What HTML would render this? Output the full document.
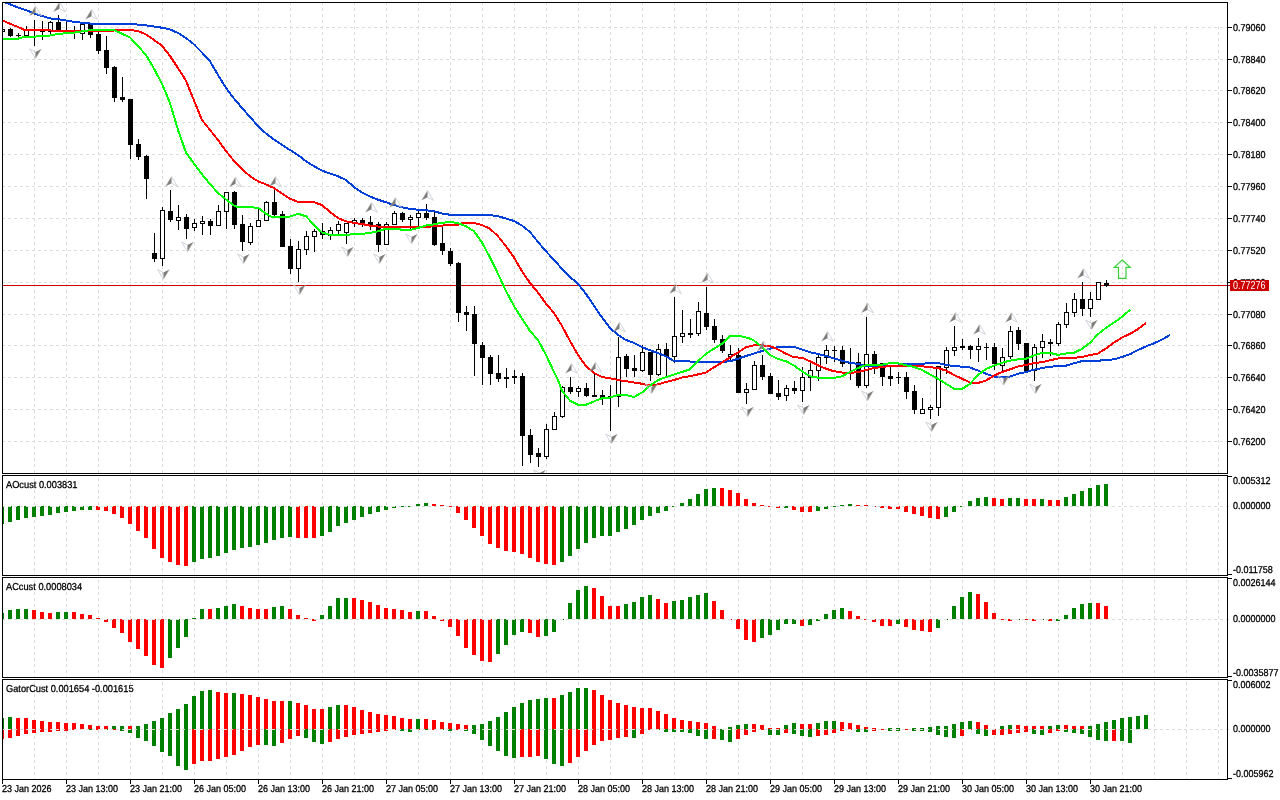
<!DOCTYPE html><html><head><meta charset="utf-8"><title>chart</title><style>html,body{margin:0;padding:0;background:#fff;overflow:hidden}body{width:1280px;height:800px;font-family:"Liberation Sans",sans-serif}</style></head><body><div style="position:relative;width:1280px;height:800px;overflow:hidden"><svg width="1280" height="800" viewBox="0 0 1280 800" shape-rendering="crispEdges" style="display:block">
<rect width="1280" height="800" fill="#fff"/>
<defs>
<clipPath id="cm"><rect x="3" y="3" width="1224" height="470"/></clipPath>
<clipPath id="c1"><rect x="3" y="476" width="1224" height="99"/></clipPath>
<clipPath id="c2"><rect x="3" y="578" width="1224" height="99"/></clipPath>
<clipPath id="c3"><rect x="3" y="680" width="1224" height="99"/></clipPath>
<g id="au"><path d="M0,0 L-5.9,9.7 L0.1,6.7 Z" fill="#7d7d7d"/><path d="M0.2,0.3 L5.9,9.8 L0.2,6.8" fill="none" stroke="#c6c9d4" stroke-width="0.8"/><path d="M0,0 L-5.9,9.7" fill="none" stroke="#c9b9a8" stroke-width="0.5"/></g>
<g id="ad"><path d="M0,0 L5.9,-9.7 L-0.1,-6.7 Z" fill="#7d7d7d"/><path d="M-0.2,-0.3 L-5.9,-9.8 L-0.2,-6.8" fill="none" stroke="#c6c9d4" stroke-width="0.8"/><path d="M0,0 L5.9,-9.7" fill="none" stroke="#c9b9a8" stroke-width="0.5"/></g>
</defs>
<g stroke="#dcdcdc" stroke-width="1" stroke-dasharray="3,3" stroke-dashoffset="0" fill="none"><line x1="34.5" y1="2" x2="34.5" y2="473"/><line x1="66.5" y1="2" x2="66.5" y2="473"/><line x1="98.5" y1="2" x2="98.5" y2="473"/><line x1="130.5" y1="2" x2="130.5" y2="473"/><line x1="162.5" y1="2" x2="162.5" y2="473"/><line x1="194.5" y1="2" x2="194.5" y2="473"/><line x1="226.5" y1="2" x2="226.5" y2="473"/><line x1="258.5" y1="2" x2="258.5" y2="473"/><line x1="290.5" y1="2" x2="290.5" y2="473"/><line x1="322.5" y1="2" x2="322.5" y2="473"/><line x1="354.5" y1="2" x2="354.5" y2="473"/><line x1="386.5" y1="2" x2="386.5" y2="473"/><line x1="418.5" y1="2" x2="418.5" y2="473"/><line x1="450.5" y1="2" x2="450.5" y2="473"/><line x1="482.5" y1="2" x2="482.5" y2="473"/><line x1="514.5" y1="2" x2="514.5" y2="473"/><line x1="546.5" y1="2" x2="546.5" y2="473"/><line x1="578.5" y1="2" x2="578.5" y2="473"/><line x1="610.5" y1="2" x2="610.5" y2="473"/><line x1="642.5" y1="2" x2="642.5" y2="473"/><line x1="674.5" y1="2" x2="674.5" y2="473"/><line x1="706.5" y1="2" x2="706.5" y2="473"/><line x1="738.5" y1="2" x2="738.5" y2="473"/><line x1="770.5" y1="2" x2="770.5" y2="473"/><line x1="802.5" y1="2" x2="802.5" y2="473"/><line x1="834.5" y1="2" x2="834.5" y2="473"/><line x1="866.5" y1="2" x2="866.5" y2="473"/><line x1="898.5" y1="2" x2="898.5" y2="473"/><line x1="930.5" y1="2" x2="930.5" y2="473"/><line x1="962.5" y1="2" x2="962.5" y2="473"/><line x1="994.5" y1="2" x2="994.5" y2="473"/><line x1="1026.5" y1="2" x2="1026.5" y2="473"/><line x1="1058.5" y1="2" x2="1058.5" y2="473"/><line x1="1090.5" y1="2" x2="1090.5" y2="473"/><line x1="1122.5" y1="2" x2="1122.5" y2="473"/><line x1="1154.5" y1="26" x2="1154.5" y2="473"/><line x1="1186.5" y1="26" x2="1186.5" y2="473"/><line x1="1218.5" y1="26" x2="1218.5" y2="473"/></g>
<g stroke="#dcdcdc" stroke-width="1" stroke-dasharray="3,3" stroke-dashoffset="0" fill="none"><line x1="34.5" y1="478" x2="34.5" y2="575"/><line x1="66.5" y1="478" x2="66.5" y2="575"/><line x1="98.5" y1="478" x2="98.5" y2="575"/><line x1="130.5" y1="478" x2="130.5" y2="575"/><line x1="162.5" y1="478" x2="162.5" y2="575"/><line x1="194.5" y1="478" x2="194.5" y2="575"/><line x1="226.5" y1="478" x2="226.5" y2="575"/><line x1="258.5" y1="478" x2="258.5" y2="575"/><line x1="290.5" y1="478" x2="290.5" y2="575"/><line x1="322.5" y1="478" x2="322.5" y2="575"/><line x1="354.5" y1="478" x2="354.5" y2="575"/><line x1="386.5" y1="478" x2="386.5" y2="575"/><line x1="418.5" y1="478" x2="418.5" y2="575"/><line x1="450.5" y1="478" x2="450.5" y2="575"/><line x1="482.5" y1="478" x2="482.5" y2="575"/><line x1="514.5" y1="478" x2="514.5" y2="575"/><line x1="546.5" y1="478" x2="546.5" y2="575"/><line x1="578.5" y1="478" x2="578.5" y2="575"/><line x1="610.5" y1="478" x2="610.5" y2="575"/><line x1="642.5" y1="478" x2="642.5" y2="575"/><line x1="674.5" y1="478" x2="674.5" y2="575"/><line x1="706.5" y1="478" x2="706.5" y2="575"/><line x1="738.5" y1="478" x2="738.5" y2="575"/><line x1="770.5" y1="478" x2="770.5" y2="575"/><line x1="802.5" y1="478" x2="802.5" y2="575"/><line x1="834.5" y1="478" x2="834.5" y2="575"/><line x1="866.5" y1="478" x2="866.5" y2="575"/><line x1="898.5" y1="478" x2="898.5" y2="575"/><line x1="930.5" y1="478" x2="930.5" y2="575"/><line x1="962.5" y1="478" x2="962.5" y2="575"/><line x1="994.5" y1="478" x2="994.5" y2="575"/><line x1="1026.5" y1="478" x2="1026.5" y2="575"/><line x1="1058.5" y1="478" x2="1058.5" y2="575"/><line x1="1090.5" y1="478" x2="1090.5" y2="575"/><line x1="1122.5" y1="478" x2="1122.5" y2="575"/><line x1="1154.5" y1="478" x2="1154.5" y2="575"/><line x1="1186.5" y1="478" x2="1186.5" y2="575"/><line x1="1218.5" y1="478" x2="1218.5" y2="575"/></g>
<g stroke="#dcdcdc" stroke-width="1" stroke-dasharray="3,3" stroke-dashoffset="0" fill="none"><line x1="34.5" y1="580" x2="34.5" y2="677"/><line x1="66.5" y1="580" x2="66.5" y2="677"/><line x1="98.5" y1="580" x2="98.5" y2="677"/><line x1="130.5" y1="580" x2="130.5" y2="677"/><line x1="162.5" y1="580" x2="162.5" y2="677"/><line x1="194.5" y1="580" x2="194.5" y2="677"/><line x1="226.5" y1="580" x2="226.5" y2="677"/><line x1="258.5" y1="580" x2="258.5" y2="677"/><line x1="290.5" y1="580" x2="290.5" y2="677"/><line x1="322.5" y1="580" x2="322.5" y2="677"/><line x1="354.5" y1="580" x2="354.5" y2="677"/><line x1="386.5" y1="580" x2="386.5" y2="677"/><line x1="418.5" y1="580" x2="418.5" y2="677"/><line x1="450.5" y1="580" x2="450.5" y2="677"/><line x1="482.5" y1="580" x2="482.5" y2="677"/><line x1="514.5" y1="580" x2="514.5" y2="677"/><line x1="546.5" y1="580" x2="546.5" y2="677"/><line x1="578.5" y1="580" x2="578.5" y2="677"/><line x1="610.5" y1="580" x2="610.5" y2="677"/><line x1="642.5" y1="580" x2="642.5" y2="677"/><line x1="674.5" y1="580" x2="674.5" y2="677"/><line x1="706.5" y1="580" x2="706.5" y2="677"/><line x1="738.5" y1="580" x2="738.5" y2="677"/><line x1="770.5" y1="580" x2="770.5" y2="677"/><line x1="802.5" y1="580" x2="802.5" y2="677"/><line x1="834.5" y1="580" x2="834.5" y2="677"/><line x1="866.5" y1="580" x2="866.5" y2="677"/><line x1="898.5" y1="580" x2="898.5" y2="677"/><line x1="930.5" y1="580" x2="930.5" y2="677"/><line x1="962.5" y1="580" x2="962.5" y2="677"/><line x1="994.5" y1="580" x2="994.5" y2="677"/><line x1="1026.5" y1="580" x2="1026.5" y2="677"/><line x1="1058.5" y1="580" x2="1058.5" y2="677"/><line x1="1090.5" y1="580" x2="1090.5" y2="677"/><line x1="1122.5" y1="580" x2="1122.5" y2="677"/><line x1="1154.5" y1="580" x2="1154.5" y2="677"/><line x1="1186.5" y1="580" x2="1186.5" y2="677"/><line x1="1218.5" y1="580" x2="1218.5" y2="677"/></g>
<g stroke="#dcdcdc" stroke-width="1" stroke-dasharray="3,3" stroke-dashoffset="0" fill="none"><line x1="34.5" y1="682" x2="34.5" y2="779"/><line x1="66.5" y1="682" x2="66.5" y2="779"/><line x1="98.5" y1="682" x2="98.5" y2="779"/><line x1="130.5" y1="682" x2="130.5" y2="779"/><line x1="162.5" y1="682" x2="162.5" y2="779"/><line x1="194.5" y1="682" x2="194.5" y2="779"/><line x1="226.5" y1="682" x2="226.5" y2="779"/><line x1="258.5" y1="682" x2="258.5" y2="779"/><line x1="290.5" y1="682" x2="290.5" y2="779"/><line x1="322.5" y1="682" x2="322.5" y2="779"/><line x1="354.5" y1="682" x2="354.5" y2="779"/><line x1="386.5" y1="682" x2="386.5" y2="779"/><line x1="418.5" y1="682" x2="418.5" y2="779"/><line x1="450.5" y1="682" x2="450.5" y2="779"/><line x1="482.5" y1="682" x2="482.5" y2="779"/><line x1="514.5" y1="682" x2="514.5" y2="779"/><line x1="546.5" y1="682" x2="546.5" y2="779"/><line x1="578.5" y1="682" x2="578.5" y2="779"/><line x1="610.5" y1="682" x2="610.5" y2="779"/><line x1="642.5" y1="682" x2="642.5" y2="779"/><line x1="674.5" y1="682" x2="674.5" y2="779"/><line x1="706.5" y1="682" x2="706.5" y2="779"/><line x1="738.5" y1="682" x2="738.5" y2="779"/><line x1="770.5" y1="682" x2="770.5" y2="779"/><line x1="802.5" y1="682" x2="802.5" y2="779"/><line x1="834.5" y1="682" x2="834.5" y2="779"/><line x1="866.5" y1="682" x2="866.5" y2="779"/><line x1="898.5" y1="682" x2="898.5" y2="779"/><line x1="930.5" y1="682" x2="930.5" y2="779"/><line x1="962.5" y1="682" x2="962.5" y2="779"/><line x1="994.5" y1="682" x2="994.5" y2="779"/><line x1="1026.5" y1="682" x2="1026.5" y2="779"/><line x1="1058.5" y1="682" x2="1058.5" y2="779"/><line x1="1090.5" y1="682" x2="1090.5" y2="779"/><line x1="1122.5" y1="682" x2="1122.5" y2="779"/><line x1="1154.5" y1="682" x2="1154.5" y2="779"/><line x1="1186.5" y1="682" x2="1186.5" y2="779"/><line x1="1218.5" y1="682" x2="1218.5" y2="779"/></g>
<g stroke="#dcdcdc" stroke-width="1" stroke-dasharray="3,3" fill="none"><line x1="2" y1="27.5" x2="1227" y2="27.5"/><line x1="2" y1="59.5" x2="1227" y2="59.5"/><line x1="2" y1="90.5" x2="1227" y2="90.5"/><line x1="2" y1="122.5" x2="1227" y2="122.5"/><line x1="2" y1="154.5" x2="1227" y2="154.5"/><line x1="2" y1="186.5" x2="1227" y2="186.5"/><line x1="2" y1="218.5" x2="1227" y2="218.5"/><line x1="2" y1="250.5" x2="1227" y2="250.5"/><line x1="2" y1="282.5" x2="1227" y2="282.5"/><line x1="2" y1="314.5" x2="1227" y2="314.5"/><line x1="2" y1="345.5" x2="1227" y2="345.5"/><line x1="2" y1="377.5" x2="1227" y2="377.5"/><line x1="2" y1="409.5" x2="1227" y2="409.5"/><line x1="2" y1="441.5" x2="1227" y2="441.5"/></g>
<g clip-path="url(#cm)">
<rect x="3" y="285" width="1224" height="1" fill="#cc0000"/>
<rect x="2" y="29" width="1" height="3" fill="#000"/><rect x="0" y="29" width="5" height="3" fill="#000"/><rect x="1" y="30" width="3" height="1" fill="#fff"/><rect x="10" y="28" width="1" height="9" fill="#000"/><rect x="8" y="29" width="5" height="7" fill="#000"/><rect x="18" y="33" width="1" height="4" fill="#000"/><rect x="16" y="35" width="5" height="1" fill="#000"/><rect x="26" y="26" width="1" height="10" fill="#000"/><rect x="24" y="30" width="5" height="6" fill="#000"/><rect x="25" y="31" width="3" height="4" fill="#fff"/><rect x="34" y="20" width="1" height="26" fill="#000"/><rect x="32" y="30" width="5" height="1" fill="#000"/><rect x="42" y="21" width="1" height="19" fill="#000"/><rect x="40" y="31" width="5" height="1" fill="#000"/><rect x="50" y="21" width="1" height="14" fill="#000"/><rect x="48" y="22" width="5" height="10" fill="#000"/><rect x="49" y="23" width="3" height="8" fill="#fff"/><rect x="58" y="15" width="1" height="15" fill="#000"/><rect x="56" y="22" width="5" height="8" fill="#000"/><rect x="66" y="22" width="1" height="9" fill="#000"/><rect x="64" y="30" width="5" height="1" fill="#000"/><rect x="74" y="26" width="1" height="13" fill="#000"/><rect x="72" y="31" width="5" height="1" fill="#000"/><rect x="82" y="24" width="1" height="16" fill="#000"/><rect x="80" y="24" width="5" height="10" fill="#000"/><rect x="81" y="25" width="3" height="8" fill="#fff"/><rect x="90" y="24" width="1" height="14" fill="#000"/><rect x="88" y="24" width="5" height="11" fill="#000"/><rect x="98" y="32" width="1" height="22" fill="#000"/><rect x="96" y="34" width="5" height="17" fill="#000"/><rect x="106" y="36" width="1" height="38" fill="#000"/><rect x="104" y="50" width="5" height="18" fill="#000"/><rect x="114" y="66" width="1" height="36" fill="#000"/><rect x="112" y="67" width="5" height="31" fill="#000"/><rect x="122" y="77" width="1" height="25" fill="#000"/><rect x="120" y="97" width="5" height="3" fill="#000"/><rect x="130" y="99" width="1" height="60" fill="#000"/><rect x="128" y="99" width="5" height="46" fill="#000"/><rect x="138" y="139" width="1" height="21" fill="#000"/><rect x="136" y="144" width="5" height="13" fill="#000"/><rect x="146" y="155" width="1" height="44" fill="#000"/><rect x="144" y="156" width="5" height="23" fill="#000"/><rect x="154" y="233" width="1" height="29" fill="#000"/><rect x="152" y="253" width="5" height="6" fill="#000"/><rect x="162" y="207" width="1" height="59" fill="#000"/><rect x="160" y="210" width="5" height="49" fill="#000"/><rect x="161" y="211" width="3" height="47" fill="#fff"/><rect x="170" y="190" width="1" height="32" fill="#000"/><rect x="168" y="211" width="5" height="9" fill="#000"/><rect x="178" y="205" width="1" height="25" fill="#000"/><rect x="176" y="217" width="5" height="4" fill="#000"/><rect x="177" y="218" width="3" height="2" fill="#fff"/><rect x="186" y="214" width="1" height="25" fill="#000"/><rect x="184" y="217" width="5" height="12" fill="#000"/><rect x="194" y="219" width="1" height="12" fill="#000"/><rect x="192" y="223" width="5" height="5" fill="#000"/><rect x="193" y="224" width="3" height="3" fill="#fff"/><rect x="202" y="216" width="1" height="19" fill="#000"/><rect x="200" y="221" width="5" height="3" fill="#000"/><rect x="201" y="222" width="3" height="1" fill="#fff"/><rect x="210" y="219" width="1" height="16" fill="#000"/><rect x="208" y="221" width="5" height="5" fill="#000"/><rect x="218" y="205" width="1" height="21" fill="#000"/><rect x="216" y="211" width="5" height="15" fill="#000"/><rect x="217" y="212" width="3" height="13" fill="#fff"/><rect x="226" y="192" width="1" height="37" fill="#000"/><rect x="224" y="192" width="5" height="20" fill="#000"/><rect x="225" y="193" width="3" height="18" fill="#fff"/><rect x="234" y="191" width="1" height="38" fill="#000"/><rect x="232" y="192" width="5" height="33" fill="#000"/><rect x="242" y="215" width="1" height="36" fill="#000"/><rect x="240" y="224" width="5" height="18" fill="#000"/><rect x="250" y="223" width="1" height="22" fill="#000"/><rect x="248" y="226" width="5" height="17" fill="#000"/><rect x="249" y="227" width="3" height="15" fill="#fff"/><rect x="258" y="207" width="1" height="20" fill="#000"/><rect x="256" y="220" width="5" height="7" fill="#000"/><rect x="257" y="221" width="3" height="5" fill="#fff"/><rect x="266" y="201" width="1" height="20" fill="#000"/><rect x="264" y="202" width="5" height="19" fill="#000"/><rect x="265" y="203" width="3" height="17" fill="#fff"/><rect x="274" y="188" width="1" height="29" fill="#000"/><rect x="272" y="202" width="5" height="13" fill="#000"/><rect x="282" y="211" width="1" height="36" fill="#000"/><rect x="280" y="214" width="5" height="33" fill="#000"/><rect x="290" y="239" width="1" height="35" fill="#000"/><rect x="288" y="246" width="5" height="23" fill="#000"/><rect x="298" y="241" width="1" height="41" fill="#000"/><rect x="296" y="249" width="5" height="20" fill="#000"/><rect x="297" y="250" width="3" height="18" fill="#fff"/><rect x="306" y="231" width="1" height="24" fill="#000"/><rect x="304" y="236" width="5" height="14" fill="#000"/><rect x="305" y="237" width="3" height="12" fill="#fff"/><rect x="314" y="229" width="1" height="23" fill="#000"/><rect x="312" y="231" width="5" height="6" fill="#000"/><rect x="313" y="232" width="3" height="4" fill="#fff"/><rect x="322" y="223" width="1" height="16" fill="#000"/><rect x="320" y="231" width="5" height="4" fill="#000"/><rect x="330" y="227" width="1" height="13" fill="#000"/><rect x="328" y="230" width="5" height="6" fill="#000"/><rect x="329" y="231" width="3" height="4" fill="#fff"/><rect x="338" y="221" width="1" height="14" fill="#000"/><rect x="336" y="224" width="5" height="7" fill="#000"/><rect x="337" y="225" width="3" height="5" fill="#fff"/><rect x="346" y="223" width="1" height="21" fill="#000"/><rect x="344" y="223" width="5" height="10" fill="#000"/><rect x="345" y="224" width="3" height="8" fill="#fff"/><rect x="354" y="218" width="1" height="9" fill="#000"/><rect x="352" y="220" width="5" height="4" fill="#000"/><rect x="353" y="221" width="3" height="2" fill="#fff"/><rect x="362" y="218" width="1" height="9" fill="#000"/><rect x="360" y="220" width="5" height="4" fill="#000"/><rect x="370" y="216" width="1" height="14" fill="#000"/><rect x="368" y="222" width="5" height="4" fill="#000"/><rect x="378" y="222" width="1" height="30" fill="#000"/><rect x="376" y="224" width="5" height="21" fill="#000"/><rect x="386" y="222" width="1" height="23" fill="#000"/><rect x="384" y="224" width="5" height="21" fill="#000"/><rect x="385" y="225" width="3" height="19" fill="#fff"/><rect x="394" y="211" width="1" height="14" fill="#000"/><rect x="392" y="213" width="5" height="12" fill="#000"/><rect x="393" y="214" width="3" height="10" fill="#fff"/><rect x="402" y="212" width="1" height="10" fill="#000"/><rect x="400" y="213" width="5" height="7" fill="#000"/><rect x="410" y="215" width="1" height="15" fill="#000"/><rect x="408" y="217" width="5" height="3" fill="#000"/><rect x="409" y="218" width="3" height="1" fill="#fff"/><rect x="418" y="211" width="1" height="16" fill="#000"/><rect x="416" y="213" width="5" height="5" fill="#000"/><rect x="417" y="214" width="3" height="3" fill="#fff"/><rect x="426" y="204" width="1" height="16" fill="#000"/><rect x="424" y="213" width="5" height="5" fill="#000"/><rect x="434" y="212" width="1" height="34" fill="#000"/><rect x="432" y="217" width="5" height="28" fill="#000"/><rect x="442" y="225" width="1" height="30" fill="#000"/><rect x="440" y="243" width="5" height="8" fill="#000"/><rect x="450" y="248" width="1" height="18" fill="#000"/><rect x="448" y="251" width="5" height="13" fill="#000"/><rect x="458" y="262" width="1" height="60" fill="#000"/><rect x="456" y="263" width="5" height="50" fill="#000"/><rect x="466" y="306" width="1" height="25" fill="#000"/><rect x="464" y="312" width="5" height="3" fill="#000"/><rect x="474" y="306" width="1" height="70" fill="#000"/><rect x="472" y="314" width="5" height="30" fill="#000"/><rect x="482" y="342" width="1" height="43" fill="#000"/><rect x="480" y="345" width="5" height="13" fill="#000"/><rect x="490" y="355" width="1" height="30" fill="#000"/><rect x="488" y="357" width="5" height="17" fill="#000"/><rect x="498" y="355" width="1" height="27" fill="#000"/><rect x="496" y="373" width="5" height="6" fill="#000"/><rect x="506" y="368" width="1" height="20" fill="#000"/><rect x="504" y="377" width="5" height="2" fill="#000"/><rect x="514" y="370" width="1" height="14" fill="#000"/><rect x="512" y="376" width="5" height="2" fill="#000"/><rect x="522" y="373" width="1" height="93" fill="#000"/><rect x="520" y="376" width="5" height="60" fill="#000"/><rect x="530" y="429" width="1" height="34" fill="#000"/><rect x="528" y="435" width="5" height="20" fill="#000"/><rect x="538" y="448" width="1" height="19" fill="#000"/><rect x="536" y="453" width="5" height="4" fill="#000"/><rect x="546" y="424" width="1" height="35" fill="#000"/><rect x="544" y="429" width="5" height="28" fill="#000"/><rect x="545" y="430" width="3" height="26" fill="#fff"/><rect x="554" y="412" width="1" height="18" fill="#000"/><rect x="552" y="416" width="5" height="14" fill="#000"/><rect x="553" y="417" width="3" height="12" fill="#fff"/><rect x="562" y="386" width="1" height="32" fill="#000"/><rect x="560" y="387" width="5" height="30" fill="#000"/><rect x="561" y="388" width="3" height="28" fill="#fff"/><rect x="570" y="377" width="1" height="17" fill="#000"/><rect x="568" y="387" width="5" height="5" fill="#000"/><rect x="578" y="386" width="1" height="11" fill="#000"/><rect x="576" y="388" width="5" height="4" fill="#000"/><rect x="577" y="389" width="3" height="2" fill="#fff"/><rect x="586" y="383" width="1" height="14" fill="#000"/><rect x="584" y="388" width="5" height="8" fill="#000"/><rect x="594" y="374" width="1" height="23" fill="#000"/><rect x="592" y="395" width="5" height="2" fill="#000"/><rect x="602" y="390" width="1" height="15" fill="#000"/><rect x="600" y="395" width="5" height="3" fill="#000"/><rect x="610" y="385" width="1" height="46" fill="#000"/><rect x="608" y="396" width="5" height="2" fill="#000"/><rect x="618" y="337" width="1" height="70" fill="#000"/><rect x="616" y="357" width="5" height="40" fill="#000"/><rect x="617" y="358" width="3" height="38" fill="#fff"/><rect x="626" y="354" width="1" height="23" fill="#000"/><rect x="624" y="356" width="5" height="13" fill="#000"/><rect x="634" y="355" width="1" height="22" fill="#000"/><rect x="632" y="368" width="5" height="3" fill="#000"/><rect x="642" y="345" width="1" height="27" fill="#000"/><rect x="640" y="352" width="5" height="19" fill="#000"/><rect x="641" y="353" width="3" height="17" fill="#fff"/><rect x="650" y="352" width="1" height="29" fill="#000"/><rect x="648" y="352" width="5" height="23" fill="#000"/><rect x="658" y="344" width="1" height="32" fill="#000"/><rect x="656" y="349" width="5" height="26" fill="#000"/><rect x="657" y="350" width="3" height="24" fill="#fff"/><rect x="666" y="343" width="1" height="34" fill="#000"/><rect x="664" y="349" width="5" height="8" fill="#000"/><rect x="674" y="297" width="1" height="66" fill="#000"/><rect x="672" y="336" width="5" height="21" fill="#000"/><rect x="673" y="337" width="3" height="19" fill="#fff"/><rect x="682" y="310" width="1" height="33" fill="#000"/><rect x="680" y="333" width="5" height="4" fill="#000"/><rect x="681" y="334" width="3" height="2" fill="#fff"/><rect x="690" y="319" width="1" height="19" fill="#000"/><rect x="688" y="333" width="5" height="2" fill="#000"/><rect x="698" y="302" width="1" height="34" fill="#000"/><rect x="696" y="311" width="5" height="23" fill="#000"/><rect x="697" y="312" width="3" height="21" fill="#fff"/><rect x="706" y="287" width="1" height="43" fill="#000"/><rect x="704" y="313" width="5" height="14" fill="#000"/><rect x="714" y="319" width="1" height="24" fill="#000"/><rect x="712" y="326" width="5" height="14" fill="#000"/><rect x="722" y="335" width="1" height="18" fill="#000"/><rect x="720" y="339" width="5" height="12" fill="#000"/><rect x="730" y="345" width="1" height="16" fill="#000"/><rect x="728" y="354" width="5" height="3" fill="#000"/><rect x="729" y="355" width="3" height="1" fill="#fff"/><rect x="738" y="348" width="1" height="45" fill="#000"/><rect x="736" y="355" width="5" height="38" fill="#000"/><rect x="746" y="383" width="1" height="21" fill="#000"/><rect x="744" y="389" width="5" height="4" fill="#000"/><rect x="745" y="390" width="3" height="2" fill="#fff"/><rect x="754" y="361" width="1" height="29" fill="#000"/><rect x="752" y="365" width="5" height="25" fill="#000"/><rect x="753" y="366" width="3" height="23" fill="#fff"/><rect x="762" y="355" width="1" height="25" fill="#000"/><rect x="760" y="365" width="5" height="12" fill="#000"/><rect x="770" y="373" width="1" height="21" fill="#000"/><rect x="768" y="376" width="5" height="18" fill="#000"/><rect x="778" y="380" width="1" height="20" fill="#000"/><rect x="776" y="393" width="5" height="4" fill="#000"/><rect x="786" y="385" width="1" height="16" fill="#000"/><rect x="784" y="388" width="5" height="8" fill="#000"/><rect x="785" y="389" width="3" height="6" fill="#fff"/><rect x="794" y="381" width="1" height="13" fill="#000"/><rect x="792" y="388" width="5" height="3" fill="#000"/><rect x="802" y="367" width="1" height="35" fill="#000"/><rect x="800" y="377" width="5" height="14" fill="#000"/><rect x="801" y="378" width="3" height="12" fill="#fff"/><rect x="810" y="362" width="1" height="29" fill="#000"/><rect x="808" y="370" width="5" height="8" fill="#000"/><rect x="809" y="371" width="3" height="6" fill="#fff"/><rect x="818" y="355" width="1" height="26" fill="#000"/><rect x="816" y="357" width="5" height="14" fill="#000"/><rect x="817" y="358" width="3" height="12" fill="#fff"/><rect x="826" y="345" width="1" height="19" fill="#000"/><rect x="824" y="350" width="5" height="8" fill="#000"/><rect x="825" y="351" width="3" height="6" fill="#fff"/><rect x="834" y="346" width="1" height="16" fill="#000"/><rect x="832" y="350" width="5" height="1" fill="#000"/><rect x="842" y="346" width="1" height="21" fill="#000"/><rect x="840" y="350" width="5" height="14" fill="#000"/><rect x="850" y="348" width="1" height="32" fill="#000"/><rect x="848" y="363" width="5" height="1" fill="#000"/><rect x="858" y="353" width="1" height="35" fill="#000"/><rect x="856" y="362" width="5" height="24" fill="#000"/><rect x="866" y="317" width="1" height="71" fill="#000"/><rect x="864" y="354" width="5" height="32" fill="#000"/><rect x="865" y="355" width="3" height="30" fill="#fff"/><rect x="874" y="351" width="1" height="23" fill="#000"/><rect x="872" y="354" width="5" height="10" fill="#000"/><rect x="882" y="363" width="1" height="23" fill="#000"/><rect x="880" y="363" width="5" height="14" fill="#000"/><rect x="890" y="366" width="1" height="20" fill="#000"/><rect x="888" y="376" width="5" height="3" fill="#000"/><rect x="898" y="372" width="1" height="12" fill="#000"/><rect x="896" y="377" width="5" height="1" fill="#000"/><rect x="906" y="372" width="1" height="27" fill="#000"/><rect x="904" y="377" width="5" height="15" fill="#000"/><rect x="914" y="385" width="1" height="29" fill="#000"/><rect x="912" y="391" width="5" height="19" fill="#000"/><rect x="922" y="398" width="1" height="16" fill="#000"/><rect x="920" y="409" width="5" height="5" fill="#000"/><rect x="921" y="410" width="3" height="3" fill="#fff"/><rect x="930" y="405" width="1" height="14" fill="#000"/><rect x="928" y="407" width="5" height="3" fill="#000"/><rect x="929" y="408" width="3" height="1" fill="#fff"/><rect x="938" y="366" width="1" height="50" fill="#000"/><rect x="936" y="366" width="5" height="42" fill="#000"/><rect x="937" y="367" width="3" height="40" fill="#fff"/><rect x="946" y="347" width="1" height="27" fill="#000"/><rect x="944" y="350" width="5" height="18" fill="#000"/><rect x="945" y="351" width="3" height="16" fill="#fff"/><rect x="954" y="326" width="1" height="30" fill="#000"/><rect x="952" y="347" width="5" height="4" fill="#000"/><rect x="953" y="348" width="3" height="2" fill="#fff"/><rect x="962" y="339" width="1" height="11" fill="#000"/><rect x="960" y="346" width="5" height="2" fill="#000"/><rect x="970" y="345" width="1" height="14" fill="#000"/><rect x="968" y="346" width="5" height="4" fill="#000"/><rect x="978" y="338" width="1" height="24" fill="#000"/><rect x="976" y="346" width="5" height="4" fill="#000"/><rect x="977" y="347" width="3" height="2" fill="#fff"/><rect x="986" y="343" width="1" height="17" fill="#000"/><rect x="984" y="347" width="5" height="1" fill="#000"/><rect x="994" y="343" width="1" height="27" fill="#000"/><rect x="992" y="347" width="5" height="17" fill="#000"/><rect x="1002" y="348" width="1" height="23" fill="#000"/><rect x="1000" y="357" width="5" height="9" fill="#000"/><rect x="1001" y="358" width="3" height="7" fill="#fff"/><rect x="1010" y="326" width="1" height="33" fill="#000"/><rect x="1008" y="331" width="5" height="26" fill="#000"/><rect x="1009" y="332" width="3" height="24" fill="#fff"/><rect x="1018" y="327" width="1" height="23" fill="#000"/><rect x="1016" y="330" width="5" height="14" fill="#000"/><rect x="1026" y="343" width="1" height="28" fill="#000"/><rect x="1024" y="343" width="5" height="28" fill="#000"/><rect x="1034" y="344" width="1" height="37" fill="#000"/><rect x="1032" y="347" width="5" height="24" fill="#000"/><rect x="1033" y="348" width="3" height="22" fill="#fff"/><rect x="1042" y="334" width="1" height="24" fill="#000"/><rect x="1040" y="341" width="5" height="7" fill="#000"/><rect x="1041" y="342" width="3" height="5" fill="#fff"/><rect x="1050" y="339" width="1" height="17" fill="#000"/><rect x="1048" y="342" width="5" height="2" fill="#000"/><rect x="1058" y="322" width="1" height="24" fill="#000"/><rect x="1056" y="324" width="5" height="20" fill="#000"/><rect x="1057" y="325" width="3" height="18" fill="#fff"/><rect x="1066" y="303" width="1" height="25" fill="#000"/><rect x="1064" y="312" width="5" height="13" fill="#000"/><rect x="1065" y="313" width="3" height="11" fill="#fff"/><rect x="1074" y="293" width="1" height="24" fill="#000"/><rect x="1072" y="299" width="5" height="14" fill="#000"/><rect x="1073" y="300" width="3" height="12" fill="#fff"/><rect x="1082" y="282" width="1" height="34" fill="#000"/><rect x="1080" y="299" width="5" height="10" fill="#000"/><rect x="1090" y="292" width="1" height="25" fill="#000"/><rect x="1088" y="299" width="5" height="10" fill="#000"/><rect x="1089" y="300" width="3" height="8" fill="#fff"/><rect x="1098" y="282" width="1" height="18" fill="#000"/><rect x="1096" y="282" width="5" height="18" fill="#000"/><rect x="1097" y="283" width="3" height="16" fill="#fff"/><rect x="1106" y="280" width="1" height="7" fill="#000"/><rect x="1104" y="283" width="5" height="3" fill="#000"/>
<polyline points="3.0,2.00 5.0,2.50 10.0,4.30 18.0,7.40 26.0,10.20 34.0,13.30 42.0,16.00 50.0,18.40 58.0,19.10 66.0,20.50 74.0,21.90 82.0,22.70 90.0,23.50 98.0,24.00 114.0,24.00 130.0,24.00 138.0,24.60 146.0,25.30 154.0,26.50 162.0,27.75 170.0,29.40 178.0,33.00 186.0,38.00 194.0,44.40 202.0,52.50 210.0,61.25 218.0,75.00 226.0,88.00 234.0,98.50 242.0,108.00 250.0,117.00 258.0,126.00 266.0,133.50 274.0,139.40 282.0,145.00 290.0,150.00 298.0,155.00 306.0,161.25 314.0,166.25 322.0,170.60 330.0,173.50 338.0,176.25 346.0,180.00 354.0,187.00 362.0,192.50 370.0,196.50 378.0,199.75 386.0,202.25 394.0,205.00 402.0,207.25 410.0,209.00 418.0,209.70 426.0,210.30 434.0,211.25 442.0,213.50 450.0,214.75 458.0,215.00 490.0,215.00 498.0,216.25 506.0,218.50 514.0,221.00 522.0,225.60 530.0,232.00 538.0,242.00 546.0,251.25 554.0,260.00 562.0,268.75 570.0,277.00 578.0,283.75 586.0,294.00 594.0,305.80 602.0,317.50 610.0,328.00 618.0,335.00 626.0,340.00 634.0,343.00 642.0,347.00 650.0,350.25 658.0,353.00 666.0,356.50 674.0,361.00 682.0,361.25 690.0,361.50 698.0,362.00 722.0,362.00 730.0,361.25 738.0,358.75 746.0,356.00 754.0,353.50 762.0,351.00 770.0,348.60 778.0,347.25 786.0,346.50 794.0,347.00 802.0,349.40 810.0,352.20 818.0,354.00 826.0,356.00 834.0,358.40 842.0,360.80 850.0,362.80 858.0,364.00 866.0,366.00 874.0,366.00 898.0,365.50 906.0,364.00 914.0,363.90 922.0,363.75 930.0,363.00 938.0,363.00 946.0,364.90 954.0,366.00 962.0,366.70 970.0,367.50 978.0,370.60 986.0,373.75 994.0,376.50 1002.0,377.00 1010.0,376.50 1018.0,373.75 1026.0,372.00 1034.0,369.75 1042.0,368.00 1050.0,366.80 1058.0,366.00 1066.0,365.70 1074.0,363.30 1082.0,361.10 1090.0,360.60 1098.0,360.60 1106.0,360.30 1114.0,359.30 1122.0,357.00 1130.0,354.20 1138.0,350.00 1146.0,346.40 1154.0,343.30 1162.0,339.60 1170.0,334.90" fill="none" stroke="#0040d8" stroke-width="2" stroke-linejoin="round"/>
<polyline points="3.0,20.70 10.0,23.80 18.0,27.00 24.0,29.70 26.0,30.00 50.0,30.00 52.0,31.00 90.0,31.20 98.0,31.00 130.0,30.00 138.0,31.00 146.0,34.40 154.0,40.00 162.0,45.60 170.0,56.00 178.0,68.00 186.0,80.60 194.0,100.50 202.0,120.00 210.0,130.00 218.0,140.00 226.0,151.00 234.0,161.00 242.0,169.00 250.0,176.25 258.0,181.25 266.0,184.40 274.0,188.00 282.0,193.50 290.0,198.75 298.0,202.00 314.0,202.25 322.0,205.00 330.0,212.00 338.0,218.00 346.0,221.25 354.0,223.00 362.0,224.00 370.0,225.60 378.0,226.50 386.0,227.00 410.0,227.00 418.0,227.25 426.0,226.90 434.0,226.25 442.0,225.60 450.0,225.00 458.0,224.75 462.0,223.00 474.0,223.00 482.0,225.00 490.0,228.75 498.0,236.25 506.0,246.25 514.0,257.50 522.0,271.25 530.0,283.00 538.0,292.50 546.0,303.75 554.0,313.00 562.0,326.00 570.0,341.00 578.0,355.00 586.0,366.00 594.0,373.00 602.0,377.00 610.0,378.30 618.0,380.00 626.0,381.20 634.0,382.50 642.0,383.75 650.0,385.60 658.0,384.40 666.0,382.00 674.0,380.00 682.0,377.50 690.0,376.25 698.0,374.40 706.0,372.50 714.0,367.30 722.0,362.50 730.0,357.50 738.0,352.50 746.0,347.20 754.0,345.25 762.0,345.30 770.0,346.00 778.0,349.40 786.0,353.75 794.0,357.25 802.0,357.75 810.0,361.25 818.0,365.25 826.0,368.75 834.0,371.25 842.0,372.50 850.0,373.00 858.0,372.00 866.0,370.00 874.0,368.00 882.0,367.00 890.0,366.00 906.0,366.00 914.0,365.60 922.0,366.25 930.0,367.25 938.0,368.00 946.0,370.60 954.0,375.00 962.0,378.75 970.0,382.50 978.0,383.00 986.0,380.60 994.0,375.60 1002.0,372.00 1010.0,369.40 1018.0,366.50 1026.0,365.00 1034.0,363.00 1042.0,362.25 1050.0,360.30 1058.0,358.50 1066.0,358.00 1074.0,357.80 1082.0,357.00 1090.0,355.00 1098.0,353.50 1106.0,348.40 1114.0,342.60 1122.0,337.50 1130.0,333.90 1138.0,329.10 1146.0,323.00" fill="none" stroke="#ff0000" stroke-width="2" stroke-linejoin="round"/>
<polyline points="3.0,38.80 18.0,38.80 19.0,37.90 26.0,37.00 34.0,36.70 42.0,36.00 50.0,35.50 58.0,34.00 66.0,33.20 74.0,32.70 82.0,31.25 90.0,30.30 98.0,29.80 114.0,30.00 122.0,33.75 130.0,37.50 138.0,46.00 146.0,55.00 154.0,68.75 162.0,83.75 165.0,91.00 170.0,103.00 178.0,130.00 186.0,152.50 194.0,163.75 202.0,174.50 210.0,184.00 218.0,193.00 226.0,199.40 234.0,205.60 238.0,207.00 250.0,207.25 258.0,207.75 266.0,213.75 272.0,217.00 282.0,217.00 290.0,216.50 298.0,213.75 306.0,216.25 314.0,225.00 322.0,232.50 330.0,234.75 346.0,234.75 362.0,233.75 370.0,233.00 378.0,231.25 386.0,228.75 394.0,228.50 402.0,229.75 410.0,230.00 418.0,228.00 426.0,225.50 434.0,224.40 442.0,222.75 450.0,222.00 458.0,223.00 466.0,226.25 474.0,231.25 482.0,242.50 490.0,257.50 498.0,273.75 506.0,291.00 514.0,306.00 522.0,318.75 530.0,331.00 538.0,340.00 546.0,355.00 554.0,372.00 558.0,380.00 562.0,390.75 570.0,400.75 578.0,404.75 586.0,404.75 594.0,401.40 602.0,398.25 610.0,397.50 618.0,395.00 626.0,395.00 634.0,397.00 642.0,392.50 650.0,385.60 658.0,380.00 666.0,377.20 674.0,374.40 682.0,372.00 690.0,369.40 698.0,361.25 706.0,353.75 714.0,348.75 722.0,343.75 730.0,336.00 738.0,335.60 746.0,337.50 750.0,338.60 754.0,340.60 762.0,347.00 770.0,355.00 778.0,359.00 786.0,361.25 794.0,365.60 802.0,371.25 810.0,376.25 818.0,377.75 826.0,378.00 834.0,378.00 842.0,376.25 850.0,372.00 858.0,368.00 866.0,365.25 874.0,364.75 882.0,364.75 890.0,363.00 898.0,363.30 906.0,365.20 914.0,367.00 922.0,370.00 930.0,374.40 938.0,378.75 946.0,383.75 954.0,388.75 962.0,389.00 970.0,383.75 978.0,375.00 986.0,369.00 994.0,365.60 1002.0,362.75 1010.0,360.60 1018.0,359.40 1026.0,358.75 1034.0,355.60 1042.0,352.75 1050.0,352.90 1058.0,354.90 1066.0,353.50 1074.0,352.80 1082.0,348.90 1090.0,342.80 1098.0,334.20 1106.0,327.80 1114.0,322.50 1122.0,316.90 1130.0,309.80" fill="none" stroke="#00ff00" stroke-width="2" stroke-linejoin="round"/>
<g shape-rendering="geometricPrecision">
<use href="#au" x="35.5" y="6"/>
<use href="#au" x="59.5" y="2"/>
<use href="#au" x="91.5" y="9.5"/>
<use href="#au" x="171.5" y="176.5"/>
<use href="#au" x="235.5" y="177"/>
<use href="#au" x="275.5" y="176.5"/>
<use href="#au" x="371.5" y="202.5"/>
<use href="#au" x="395.5" y="197.5"/>
<use href="#au" x="427.5" y="190.5"/>
<use href="#au" x="571.5" y="363.5"/>
<use href="#au" x="595.5" y="362"/>
<use href="#au" x="619.5" y="322"/>
<use href="#au" x="675.5" y="283.75"/>
<use href="#au" x="707.5" y="273"/>
<use href="#au" x="763.5" y="341"/>
<use href="#au" x="827.5" y="331.5"/>
<use href="#au" x="867.5" y="303"/>
<use href="#au" x="955.5" y="312.5"/>
<use href="#au" x="979.5" y="324.5"/>
<use href="#au" x="1011.5" y="312.5"/>
<use href="#au" x="1083.5" y="268.5"/>
<use href="#ad" x="35.5" y="58.599999999999994"/>
<use href="#ad" x="163.5" y="279.3"/>
<use href="#ad" x="187.5" y="251.8"/>
<use href="#ad" x="243.5" y="263.8"/>
<use href="#ad" x="299.5" y="294.8"/>
<use href="#ad" x="347.5" y="256.8"/>
<use href="#ad" x="379.5" y="263.8"/>
<use href="#ad" x="411.5" y="243.8"/>
<use href="#ad" x="539.5" y="479.8"/>
<use href="#ad" x="611.5" y="443.8"/>
<use href="#ad" x="651.5" y="393.8"/>
<use href="#ad" x="747.5" y="416.8"/>
<use href="#ad" x="803.5" y="414.8"/>
<use href="#ad" x="867.5" y="400.8"/>
<use href="#ad" x="931.5" y="431.8"/>
<use href="#ad" x="1003.5" y="385.3"/>
<use href="#ad" x="1035.5" y="393.8"/>
<use href="#ad" x="1091.5" y="329.8"/>
<path d="M1122.2,260 L1130.2,267.3 L1126,267.3 L1126,278.4 L1118.5,278.4 L1118.5,267.3 L1114.2,267.3 Z" fill="none" stroke="#36cf36" stroke-width="1.2"/>
</g>
</g>
<g clip-path="url(#c1)"><rect x="0" y="506" width="4" height="18" fill="#008000"/><rect x="8" y="506" width="4" height="16" fill="#008000"/><rect x="16" y="506" width="4" height="14" fill="#008000"/><rect x="24" y="506" width="4" height="12" fill="#008000"/><rect x="32" y="506" width="4" height="11" fill="#008000"/><rect x="40" y="506" width="4" height="10" fill="#008000"/><rect x="48" y="506" width="4" height="9" fill="#008000"/><rect x="56" y="506" width="4" height="7" fill="#008000"/><rect x="64" y="506" width="4" height="6" fill="#008000"/><rect x="72" y="506" width="4" height="5" fill="#008000"/><rect x="80" y="506" width="4" height="4" fill="#008000"/><rect x="88" y="506" width="4" height="4" fill="#008000"/><rect x="96" y="506" width="4" height="4" fill="#ff0000"/><rect x="104" y="506" width="4" height="5" fill="#ff0000"/><rect x="112" y="506" width="4" height="8" fill="#ff0000"/><rect x="120" y="506" width="4" height="12" fill="#ff0000"/><rect x="128" y="506" width="4" height="18" fill="#ff0000"/><rect x="136" y="506" width="4" height="25" fill="#ff0000"/><rect x="144" y="506" width="4" height="32" fill="#ff0000"/><rect x="152" y="506" width="4" height="43" fill="#ff0000"/><rect x="160" y="506" width="4" height="52" fill="#ff0000"/><rect x="168" y="506" width="4" height="56" fill="#ff0000"/><rect x="176" y="506" width="4" height="59" fill="#ff0000"/><rect x="184" y="506" width="4" height="60" fill="#ff0000"/><rect x="192" y="506" width="4" height="56" fill="#008000"/><rect x="200" y="506" width="4" height="53" fill="#008000"/><rect x="208" y="506" width="4" height="52" fill="#008000"/><rect x="216" y="506" width="4" height="50" fill="#008000"/><rect x="224" y="506" width="4" height="47" fill="#008000"/><rect x="232" y="506" width="4" height="44" fill="#008000"/><rect x="240" y="506" width="4" height="42" fill="#008000"/><rect x="248" y="506" width="4" height="41" fill="#008000"/><rect x="256" y="506" width="4" height="39" fill="#008000"/><rect x="264" y="506" width="4" height="37" fill="#008000"/><rect x="272" y="506" width="4" height="34" fill="#008000"/><rect x="280" y="506" width="4" height="32" fill="#008000"/><rect x="288" y="506" width="4" height="31" fill="#008000"/><rect x="296" y="506" width="4" height="32" fill="#ff0000"/><rect x="304" y="506" width="4" height="32" fill="#ff0000"/><rect x="312" y="506" width="4" height="32" fill="#ff0000"/><rect x="320" y="506" width="4" height="30" fill="#008000"/><rect x="328" y="506" width="4" height="26" fill="#008000"/><rect x="336" y="506" width="4" height="20" fill="#008000"/><rect x="344" y="506" width="4" height="17" fill="#008000"/><rect x="352" y="506" width="4" height="14" fill="#008000"/><rect x="360" y="506" width="4" height="11" fill="#008000"/><rect x="368" y="506" width="4" height="8" fill="#008000"/><rect x="376" y="506" width="4" height="6" fill="#008000"/><rect x="384" y="506" width="4" height="4" fill="#008000"/><rect x="392" y="506" width="4" height="2" fill="#008000"/><rect x="400" y="506" width="4" height="1" fill="#008000"/><rect x="408" y="506" width="4" height="1" fill="#008000"/><rect x="416" y="504" width="4" height="2" fill="#008000"/><rect x="424" y="503" width="4" height="3" fill="#008000"/><rect x="432" y="504" width="4" height="2" fill="#ff0000"/><rect x="440" y="505" width="4" height="1" fill="#ff0000"/><rect x="448" y="506" width="4" height="1" fill="#ff0000"/><rect x="456" y="506" width="4" height="7" fill="#ff0000"/><rect x="464" y="506" width="4" height="14" fill="#ff0000"/><rect x="472" y="506" width="4" height="22" fill="#ff0000"/><rect x="480" y="506" width="4" height="30" fill="#ff0000"/><rect x="488" y="506" width="4" height="38" fill="#ff0000"/><rect x="496" y="506" width="4" height="42" fill="#ff0000"/><rect x="504" y="506" width="4" height="45" fill="#ff0000"/><rect x="512" y="506" width="4" height="46" fill="#ff0000"/><rect x="520" y="506" width="4" height="48" fill="#ff0000"/><rect x="528" y="506" width="4" height="52" fill="#ff0000"/><rect x="536" y="506" width="4" height="56" fill="#ff0000"/><rect x="544" y="506" width="4" height="58" fill="#ff0000"/><rect x="552" y="506" width="4" height="59" fill="#ff0000"/><rect x="560" y="506" width="4" height="56" fill="#008000"/><rect x="568" y="506" width="4" height="50" fill="#008000"/><rect x="576" y="506" width="4" height="43" fill="#008000"/><rect x="584" y="506" width="4" height="37" fill="#008000"/><rect x="592" y="506" width="4" height="32" fill="#008000"/><rect x="600" y="506" width="4" height="30" fill="#008000"/><rect x="608" y="506" width="4" height="30" fill="#008000"/><rect x="616" y="506" width="4" height="26" fill="#008000"/><rect x="624" y="506" width="4" height="23" fill="#008000"/><rect x="632" y="506" width="4" height="19" fill="#008000"/><rect x="640" y="506" width="4" height="14" fill="#008000"/><rect x="648" y="506" width="4" height="10" fill="#008000"/><rect x="656" y="506" width="4" height="7" fill="#008000"/><rect x="664" y="506" width="4" height="5" fill="#008000"/><rect x="672" y="506" width="4" height="1" fill="#008000"/><rect x="680" y="503" width="4" height="3" fill="#008000"/><rect x="688" y="499" width="4" height="7" fill="#008000"/><rect x="696" y="494" width="4" height="12" fill="#008000"/><rect x="704" y="489" width="4" height="17" fill="#008000"/><rect x="712" y="488" width="4" height="18" fill="#008000"/><rect x="720" y="488" width="4" height="18" fill="#ff0000"/><rect x="728" y="490" width="4" height="16" fill="#ff0000"/><rect x="736" y="493" width="4" height="13" fill="#ff0000"/><rect x="744" y="499" width="4" height="7" fill="#ff0000"/><rect x="752" y="503" width="4" height="3" fill="#ff0000"/><rect x="760" y="505" width="4" height="1" fill="#ff0000"/><rect x="768" y="506" width="4" height="1" fill="#ff0000"/><rect x="776" y="506" width="4" height="2" fill="#ff0000"/><rect x="784" y="506" width="4" height="2" fill="#008000"/><rect x="792" y="506" width="4" height="4" fill="#ff0000"/><rect x="800" y="506" width="4" height="6" fill="#ff0000"/><rect x="808" y="506" width="4" height="6" fill="#ff0000"/><rect x="816" y="506" width="4" height="5" fill="#008000"/><rect x="824" y="506" width="4" height="3" fill="#008000"/><rect x="832" y="506" width="4" height="1" fill="#008000"/><rect x="840" y="505" width="4" height="1" fill="#008000"/><rect x="848" y="504" width="4" height="2" fill="#008000"/><rect x="856" y="505" width="4" height="1" fill="#ff0000"/><rect x="864" y="505" width="4" height="1" fill="#ff0000"/><rect x="872" y="506" width="4" height="1" fill="#ff0000"/><rect x="880" y="506" width="4" height="2" fill="#ff0000"/><rect x="888" y="506" width="4" height="3" fill="#ff0000"/><rect x="896" y="506" width="4" height="3" fill="#ff0000"/><rect x="904" y="506" width="4" height="6" fill="#ff0000"/><rect x="912" y="506" width="4" height="8" fill="#ff0000"/><rect x="920" y="506" width="4" height="10" fill="#ff0000"/><rect x="928" y="506" width="4" height="12" fill="#ff0000"/><rect x="936" y="506" width="4" height="13" fill="#ff0000"/><rect x="944" y="506" width="4" height="11" fill="#008000"/><rect x="952" y="506" width="4" height="6" fill="#008000"/><rect x="960" y="506" width="4" height="1" fill="#008000"/><rect x="968" y="501" width="4" height="5" fill="#008000"/><rect x="976" y="498" width="4" height="8" fill="#008000"/><rect x="984" y="497" width="4" height="9" fill="#008000"/><rect x="992" y="498" width="4" height="8" fill="#ff0000"/><rect x="1000" y="499" width="4" height="7" fill="#ff0000"/><rect x="1008" y="498" width="4" height="8" fill="#008000"/><rect x="1016" y="498" width="4" height="8" fill="#008000"/><rect x="1024" y="499" width="4" height="7" fill="#ff0000"/><rect x="1032" y="499" width="4" height="7" fill="#ff0000"/><rect x="1040" y="499" width="4" height="7" fill="#008000"/><rect x="1048" y="500" width="4" height="6" fill="#ff0000"/><rect x="1056" y="500" width="4" height="6" fill="#ff0000"/><rect x="1064" y="497" width="4" height="9" fill="#008000"/><rect x="1072" y="494" width="4" height="12" fill="#008000"/><rect x="1080" y="491" width="4" height="15" fill="#008000"/><rect x="1088" y="488" width="4" height="18" fill="#008000"/><rect x="1096" y="485" width="4" height="21" fill="#008000"/><rect x="1104" y="484" width="4" height="22" fill="#008000"/></g>
<g clip-path="url(#c2)"><rect x="0" y="613" width="4" height="6" fill="#008000"/><rect x="8" y="610" width="4" height="9" fill="#008000"/><rect x="16" y="609" width="4" height="10" fill="#008000"/><rect x="24" y="609" width="4" height="10" fill="#008000"/><rect x="32" y="610" width="4" height="9" fill="#ff0000"/><rect x="40" y="612" width="4" height="7" fill="#ff0000"/><rect x="48" y="613" width="4" height="6" fill="#ff0000"/><rect x="56" y="612" width="4" height="7" fill="#008000"/><rect x="64" y="612" width="4" height="7" fill="#008000"/><rect x="72" y="612" width="4" height="7" fill="#ff0000"/><rect x="80" y="614" width="4" height="5" fill="#ff0000"/><rect x="88" y="615" width="4" height="4" fill="#ff0000"/><rect x="96" y="618" width="4" height="1" fill="#ff0000"/><rect x="104" y="619" width="4" height="3" fill="#ff0000"/><rect x="112" y="619" width="4" height="9" fill="#ff0000"/><rect x="120" y="619" width="4" height="14" fill="#ff0000"/><rect x="128" y="619" width="4" height="23" fill="#ff0000"/><rect x="136" y="619" width="4" height="30" fill="#ff0000"/><rect x="144" y="619" width="4" height="37" fill="#ff0000"/><rect x="152" y="619" width="4" height="46" fill="#ff0000"/><rect x="160" y="619" width="4" height="49" fill="#ff0000"/><rect x="168" y="619" width="4" height="39" fill="#008000"/><rect x="176" y="619" width="4" height="29" fill="#008000"/><rect x="184" y="619" width="4" height="18" fill="#008000"/><rect x="192" y="618" width="4" height="1" fill="#008000"/><rect x="200" y="609" width="4" height="10" fill="#008000"/><rect x="208" y="609" width="4" height="10" fill="#ff0000"/><rect x="216" y="608" width="4" height="11" fill="#008000"/><rect x="224" y="606" width="4" height="13" fill="#008000"/><rect x="232" y="604" width="4" height="15" fill="#008000"/><rect x="240" y="606" width="4" height="13" fill="#ff0000"/><rect x="248" y="608" width="4" height="11" fill="#ff0000"/><rect x="256" y="609" width="4" height="10" fill="#ff0000"/><rect x="264" y="609" width="4" height="10" fill="#ff0000"/><rect x="272" y="607" width="4" height="12" fill="#008000"/><rect x="280" y="606" width="4" height="13" fill="#008000"/><rect x="288" y="609" width="4" height="10" fill="#ff0000"/><rect x="296" y="615" width="4" height="4" fill="#ff0000"/><rect x="304" y="618" width="4" height="1" fill="#ff0000"/><rect x="312" y="619" width="4" height="2" fill="#ff0000"/><rect x="320" y="615" width="4" height="4" fill="#008000"/><rect x="328" y="606" width="4" height="13" fill="#008000"/><rect x="336" y="598" width="4" height="21" fill="#008000"/><rect x="344" y="598" width="4" height="21" fill="#008000"/><rect x="352" y="598" width="4" height="21" fill="#ff0000"/><rect x="360" y="600" width="4" height="19" fill="#ff0000"/><rect x="368" y="602" width="4" height="17" fill="#ff0000"/><rect x="376" y="605" width="4" height="14" fill="#ff0000"/><rect x="384" y="608" width="4" height="11" fill="#ff0000"/><rect x="392" y="609" width="4" height="10" fill="#ff0000"/><rect x="400" y="610" width="4" height="9" fill="#ff0000"/><rect x="408" y="612" width="4" height="7" fill="#ff0000"/><rect x="416" y="611" width="4" height="8" fill="#008000"/><rect x="424" y="611" width="4" height="8" fill="#ff0000"/><rect x="432" y="616" width="4" height="3" fill="#ff0000"/><rect x="440" y="619" width="4" height="2" fill="#ff0000"/><rect x="448" y="619" width="4" height="8" fill="#ff0000"/><rect x="456" y="619" width="4" height="17" fill="#ff0000"/><rect x="464" y="619" width="4" height="29" fill="#ff0000"/><rect x="472" y="619" width="4" height="36" fill="#ff0000"/><rect x="480" y="619" width="4" height="42" fill="#ff0000"/><rect x="488" y="619" width="4" height="43" fill="#ff0000"/><rect x="496" y="619" width="4" height="35" fill="#008000"/><rect x="504" y="619" width="4" height="26" fill="#008000"/><rect x="512" y="619" width="4" height="16" fill="#008000"/><rect x="520" y="619" width="4" height="13" fill="#008000"/><rect x="528" y="619" width="4" height="14" fill="#ff0000"/><rect x="536" y="619" width="4" height="18" fill="#ff0000"/><rect x="544" y="619" width="4" height="17" fill="#008000"/><rect x="552" y="619" width="4" height="13" fill="#008000"/><rect x="560" y="619" width="4" height="1" fill="#008000"/><rect x="568" y="603" width="4" height="16" fill="#008000"/><rect x="576" y="590" width="4" height="29" fill="#008000"/><rect x="584" y="586" width="4" height="33" fill="#008000"/><rect x="592" y="588" width="4" height="31" fill="#ff0000"/><rect x="600" y="596" width="4" height="23" fill="#ff0000"/><rect x="608" y="606" width="4" height="13" fill="#ff0000"/><rect x="616" y="606" width="4" height="13" fill="#ff0000"/><rect x="624" y="604" width="4" height="15" fill="#008000"/><rect x="632" y="602" width="4" height="17" fill="#008000"/><rect x="640" y="597" width="4" height="22" fill="#008000"/><rect x="648" y="595" width="4" height="24" fill="#008000"/><rect x="656" y="599" width="4" height="20" fill="#ff0000"/><rect x="664" y="603" width="4" height="16" fill="#ff0000"/><rect x="672" y="601" width="4" height="18" fill="#008000"/><rect x="680" y="600" width="4" height="19" fill="#008000"/><rect x="688" y="597" width="4" height="22" fill="#008000"/><rect x="696" y="595" width="4" height="24" fill="#008000"/><rect x="704" y="593" width="4" height="26" fill="#008000"/><rect x="712" y="601" width="4" height="18" fill="#ff0000"/><rect x="720" y="610" width="4" height="9" fill="#ff0000"/><rect x="728" y="619" width="4" height="1" fill="#ff0000"/><rect x="736" y="619" width="4" height="10" fill="#ff0000"/><rect x="744" y="619" width="4" height="21" fill="#ff0000"/><rect x="752" y="619" width="4" height="23" fill="#ff0000"/><rect x="760" y="619" width="4" height="19" fill="#008000"/><rect x="768" y="619" width="4" height="16" fill="#008000"/><rect x="776" y="619" width="4" height="11" fill="#008000"/><rect x="784" y="619" width="4" height="5" fill="#008000"/><rect x="792" y="619" width="4" height="5" fill="#008000"/><rect x="800" y="619" width="4" height="7" fill="#ff0000"/><rect x="808" y="619" width="4" height="6" fill="#008000"/><rect x="816" y="619" width="4" height="2" fill="#008000"/><rect x="824" y="614" width="4" height="5" fill="#008000"/><rect x="832" y="610" width="4" height="9" fill="#008000"/><rect x="840" y="608" width="4" height="11" fill="#008000"/><rect x="848" y="611" width="4" height="8" fill="#ff0000"/><rect x="856" y="616" width="4" height="3" fill="#ff0000"/><rect x="864" y="619" width="4" height="1" fill="#ff0000"/><rect x="872" y="619" width="4" height="3" fill="#ff0000"/><rect x="880" y="619" width="4" height="7" fill="#ff0000"/><rect x="888" y="619" width="4" height="7" fill="#ff0000"/><rect x="896" y="619" width="4" height="5" fill="#008000"/><rect x="904" y="619" width="4" height="8" fill="#ff0000"/><rect x="912" y="619" width="4" height="11" fill="#ff0000"/><rect x="920" y="619" width="4" height="12" fill="#ff0000"/><rect x="928" y="619" width="4" height="13" fill="#ff0000"/><rect x="936" y="619" width="4" height="9" fill="#008000"/><rect x="944" y="619" width="4" height="1" fill="#008000"/><rect x="952" y="606" width="4" height="13" fill="#008000"/><rect x="960" y="597" width="4" height="22" fill="#008000"/><rect x="968" y="592" width="4" height="27" fill="#008000"/><rect x="976" y="594" width="4" height="25" fill="#ff0000"/><rect x="984" y="602" width="4" height="17" fill="#ff0000"/><rect x="992" y="613" width="4" height="6" fill="#ff0000"/><rect x="1000" y="619" width="4" height="1" fill="#ff0000"/><rect x="1008" y="619" width="4" height="2" fill="#ff0000"/><rect x="1016" y="619" width="4" height="1" fill="#008000"/><rect x="1024" y="619" width="4" height="1" fill="#ff0000"/><rect x="1032" y="619" width="4" height="2" fill="#ff0000"/><rect x="1040" y="619" width="4" height="1" fill="#008000"/><rect x="1048" y="619" width="4" height="2" fill="#ff0000"/><rect x="1056" y="619" width="4" height="2" fill="#008000"/><rect x="1064" y="615" width="4" height="4" fill="#008000"/><rect x="1072" y="608" width="4" height="11" fill="#008000"/><rect x="1080" y="604" width="4" height="15" fill="#008000"/><rect x="1088" y="603" width="4" height="16" fill="#008000"/><rect x="1096" y="603" width="4" height="16" fill="#ff0000"/><rect x="1104" y="606" width="4" height="13" fill="#ff0000"/></g>
<g clip-path="url(#c3)"><rect x="0" y="718" width="4" height="11" fill="#008000"/><rect x="0" y="729" width="4" height="10" fill="#ff0000"/><rect x="8" y="717" width="4" height="12" fill="#008000"/><rect x="8" y="729" width="4" height="9" fill="#ff0000"/><rect x="16" y="718" width="4" height="11" fill="#ff0000"/><rect x="16" y="729" width="4" height="7" fill="#ff0000"/><rect x="24" y="718" width="4" height="11" fill="#ff0000"/><rect x="24" y="729" width="4" height="5" fill="#ff0000"/><rect x="32" y="720" width="4" height="9" fill="#ff0000"/><rect x="32" y="729" width="4" height="4" fill="#ff0000"/><rect x="40" y="721" width="4" height="8" fill="#ff0000"/><rect x="40" y="729" width="4" height="3" fill="#ff0000"/><rect x="48" y="722" width="4" height="7" fill="#ff0000"/><rect x="48" y="729" width="4" height="3" fill="#ff0000"/><rect x="56" y="722" width="4" height="7" fill="#ff0000"/><rect x="56" y="729" width="4" height="2" fill="#ff0000"/><rect x="64" y="723" width="4" height="6" fill="#ff0000"/><rect x="64" y="729" width="4" height="2" fill="#ff0000"/><rect x="72" y="723" width="4" height="6" fill="#ff0000"/><rect x="72" y="729" width="4" height="1" fill="#ff0000"/><rect x="80" y="724" width="4" height="5" fill="#ff0000"/><rect x="88" y="725" width="4" height="4" fill="#ff0000"/><rect x="88" y="729" width="4" height="1" fill="#008000"/><rect x="96" y="726" width="4" height="3" fill="#ff0000"/><rect x="96" y="729" width="4" height="1" fill="#ff0000"/><rect x="104" y="726" width="4" height="3" fill="#ff0000"/><rect x="104" y="729" width="4" height="1" fill="#008000"/><rect x="112" y="726" width="4" height="3" fill="#008000"/><rect x="112" y="729" width="4" height="1" fill="#ff0000"/><rect x="120" y="726" width="4" height="3" fill="#008000"/><rect x="120" y="729" width="4" height="2" fill="#008000"/><rect x="128" y="726" width="4" height="3" fill="#ff0000"/><rect x="128" y="729" width="4" height="4" fill="#008000"/><rect x="136" y="726" width="4" height="3" fill="#008000"/><rect x="136" y="729" width="4" height="9" fill="#008000"/><rect x="144" y="724" width="4" height="5" fill="#008000"/><rect x="144" y="729" width="4" height="12" fill="#008000"/><rect x="152" y="721" width="4" height="8" fill="#008000"/><rect x="152" y="729" width="4" height="17" fill="#008000"/><rect x="160" y="718" width="4" height="11" fill="#008000"/><rect x="160" y="729" width="4" height="23" fill="#008000"/><rect x="168" y="713" width="4" height="16" fill="#008000"/><rect x="168" y="729" width="4" height="27" fill="#008000"/><rect x="176" y="709" width="4" height="20" fill="#008000"/><rect x="176" y="729" width="4" height="37" fill="#008000"/><rect x="184" y="704" width="4" height="25" fill="#008000"/><rect x="184" y="729" width="4" height="41" fill="#008000"/><rect x="192" y="696" width="4" height="33" fill="#008000"/><rect x="192" y="729" width="4" height="35" fill="#ff0000"/><rect x="200" y="691" width="4" height="38" fill="#008000"/><rect x="200" y="729" width="4" height="32" fill="#ff0000"/><rect x="208" y="690" width="4" height="39" fill="#008000"/><rect x="208" y="729" width="4" height="32" fill="#ff0000"/><rect x="216" y="692" width="4" height="37" fill="#ff0000"/><rect x="216" y="729" width="4" height="30" fill="#ff0000"/><rect x="224" y="693" width="4" height="36" fill="#ff0000"/><rect x="224" y="729" width="4" height="28" fill="#ff0000"/><rect x="232" y="693" width="4" height="36" fill="#008000"/><rect x="232" y="729" width="4" height="26" fill="#ff0000"/><rect x="240" y="694" width="4" height="35" fill="#ff0000"/><rect x="240" y="729" width="4" height="22" fill="#ff0000"/><rect x="248" y="695" width="4" height="34" fill="#ff0000"/><rect x="248" y="729" width="4" height="18" fill="#ff0000"/><rect x="256" y="697" width="4" height="32" fill="#ff0000"/><rect x="256" y="729" width="4" height="16" fill="#ff0000"/><rect x="264" y="699" width="4" height="30" fill="#ff0000"/><rect x="264" y="729" width="4" height="16" fill="#008000"/><rect x="272" y="701" width="4" height="28" fill="#ff0000"/><rect x="272" y="729" width="4" height="17" fill="#008000"/><rect x="280" y="701" width="4" height="28" fill="#ff0000"/><rect x="280" y="729" width="4" height="14" fill="#ff0000"/><rect x="288" y="701" width="4" height="28" fill="#008000"/><rect x="288" y="729" width="4" height="10" fill="#ff0000"/><rect x="296" y="703" width="4" height="26" fill="#ff0000"/><rect x="296" y="729" width="4" height="7" fill="#ff0000"/><rect x="304" y="705" width="4" height="24" fill="#ff0000"/><rect x="304" y="729" width="4" height="9" fill="#008000"/><rect x="312" y="709" width="4" height="20" fill="#ff0000"/><rect x="312" y="729" width="4" height="13" fill="#008000"/><rect x="320" y="709" width="4" height="20" fill="#ff0000"/><rect x="320" y="729" width="4" height="15" fill="#008000"/><rect x="328" y="707" width="4" height="22" fill="#008000"/><rect x="328" y="729" width="4" height="13" fill="#ff0000"/><rect x="336" y="705" width="4" height="24" fill="#008000"/><rect x="336" y="729" width="4" height="10" fill="#ff0000"/><rect x="344" y="705" width="4" height="24" fill="#ff0000"/><rect x="344" y="729" width="4" height="8" fill="#ff0000"/><rect x="352" y="707" width="4" height="22" fill="#ff0000"/><rect x="352" y="729" width="4" height="6" fill="#ff0000"/><rect x="360" y="710" width="4" height="19" fill="#ff0000"/><rect x="360" y="729" width="4" height="5" fill="#ff0000"/><rect x="368" y="712" width="4" height="17" fill="#ff0000"/><rect x="368" y="729" width="4" height="4" fill="#ff0000"/><rect x="376" y="714" width="4" height="15" fill="#ff0000"/><rect x="376" y="729" width="4" height="3" fill="#ff0000"/><rect x="384" y="715" width="4" height="14" fill="#ff0000"/><rect x="384" y="729" width="4" height="2" fill="#ff0000"/><rect x="392" y="716" width="4" height="13" fill="#ff0000"/><rect x="392" y="729" width="4" height="1" fill="#ff0000"/><rect x="400" y="718" width="4" height="11" fill="#ff0000"/><rect x="400" y="729" width="4" height="2" fill="#008000"/><rect x="408" y="719" width="4" height="10" fill="#ff0000"/><rect x="408" y="729" width="4" height="3" fill="#008000"/><rect x="416" y="719" width="4" height="10" fill="#008000"/><rect x="416" y="729" width="4" height="1" fill="#ff0000"/><rect x="424" y="719" width="4" height="10" fill="#ff0000"/><rect x="424" y="729" width="4" height="1" fill="#008000"/><rect x="432" y="720" width="4" height="9" fill="#ff0000"/><rect x="432" y="729" width="4" height="1" fill="#ff0000"/><rect x="440" y="722" width="4" height="7" fill="#ff0000"/><rect x="440" y="729" width="4" height="1" fill="#008000"/><rect x="448" y="723" width="4" height="6" fill="#ff0000"/><rect x="448" y="729" width="4" height="2" fill="#008000"/><rect x="456" y="724" width="4" height="5" fill="#ff0000"/><rect x="456" y="729" width="4" height="1" fill="#ff0000"/><rect x="464" y="725" width="4" height="4" fill="#ff0000"/><rect x="464" y="729" width="4" height="2" fill="#008000"/><rect x="472" y="725" width="4" height="4" fill="#008000"/><rect x="472" y="729" width="4" height="5" fill="#008000"/><rect x="480" y="724" width="4" height="5" fill="#008000"/><rect x="480" y="729" width="4" height="11" fill="#008000"/><rect x="488" y="721" width="4" height="8" fill="#008000"/><rect x="488" y="729" width="4" height="17" fill="#008000"/><rect x="496" y="717" width="4" height="12" fill="#008000"/><rect x="496" y="729" width="4" height="22" fill="#008000"/><rect x="504" y="712" width="4" height="17" fill="#008000"/><rect x="504" y="729" width="4" height="27" fill="#008000"/><rect x="512" y="707" width="4" height="22" fill="#008000"/><rect x="512" y="729" width="4" height="29" fill="#008000"/><rect x="520" y="703" width="4" height="26" fill="#008000"/><rect x="520" y="729" width="4" height="28" fill="#ff0000"/><rect x="528" y="700" width="4" height="29" fill="#008000"/><rect x="528" y="729" width="4" height="28" fill="#ff0000"/><rect x="536" y="699" width="4" height="30" fill="#008000"/><rect x="536" y="729" width="4" height="27" fill="#ff0000"/><rect x="544" y="698" width="4" height="31" fill="#008000"/><rect x="544" y="729" width="4" height="30" fill="#008000"/><rect x="552" y="698" width="4" height="31" fill="#ff0000"/><rect x="552" y="729" width="4" height="35" fill="#008000"/><rect x="560" y="695" width="4" height="34" fill="#008000"/><rect x="560" y="729" width="4" height="37" fill="#008000"/><rect x="568" y="692" width="4" height="37" fill="#008000"/><rect x="568" y="729" width="4" height="34" fill="#ff0000"/><rect x="576" y="688" width="4" height="41" fill="#008000"/><rect x="576" y="729" width="4" height="28" fill="#ff0000"/><rect x="584" y="688" width="4" height="41" fill="#008000"/><rect x="584" y="729" width="4" height="22" fill="#ff0000"/><rect x="592" y="690" width="4" height="39" fill="#ff0000"/><rect x="592" y="729" width="4" height="16" fill="#ff0000"/><rect x="600" y="695" width="4" height="34" fill="#ff0000"/><rect x="600" y="729" width="4" height="12" fill="#ff0000"/><rect x="608" y="700" width="4" height="29" fill="#ff0000"/><rect x="608" y="729" width="4" height="11" fill="#ff0000"/><rect x="616" y="703" width="4" height="26" fill="#ff0000"/><rect x="616" y="729" width="4" height="9" fill="#ff0000"/><rect x="624" y="705" width="4" height="24" fill="#ff0000"/><rect x="624" y="729" width="4" height="8" fill="#ff0000"/><rect x="632" y="707" width="4" height="22" fill="#ff0000"/><rect x="632" y="729" width="4" height="9" fill="#008000"/><rect x="640" y="708" width="4" height="21" fill="#ff0000"/><rect x="640" y="729" width="4" height="5" fill="#ff0000"/><rect x="648" y="708" width="4" height="21" fill="#ff0000"/><rect x="648" y="729" width="4" height="1" fill="#ff0000"/><rect x="656" y="711" width="4" height="18" fill="#ff0000"/><rect x="656" y="729" width="4" height="1" fill="#008000"/><rect x="664" y="714" width="4" height="15" fill="#ff0000"/><rect x="664" y="729" width="4" height="3" fill="#008000"/><rect x="672" y="718" width="4" height="11" fill="#ff0000"/><rect x="672" y="729" width="4" height="3" fill="#008000"/><rect x="680" y="720" width="4" height="9" fill="#ff0000"/><rect x="680" y="729" width="4" height="3" fill="#008000"/><rect x="688" y="721" width="4" height="8" fill="#ff0000"/><rect x="688" y="729" width="4" height="4" fill="#008000"/><rect x="696" y="722" width="4" height="7" fill="#ff0000"/><rect x="696" y="729" width="4" height="7" fill="#008000"/><rect x="704" y="723" width="4" height="6" fill="#ff0000"/><rect x="704" y="729" width="4" height="10" fill="#008000"/><rect x="712" y="726" width="4" height="3" fill="#ff0000"/><rect x="712" y="729" width="4" height="10" fill="#ff0000"/><rect x="720" y="729" width="4" height="11" fill="#008000"/><rect x="728" y="727" width="4" height="2" fill="#008000"/><rect x="728" y="729" width="4" height="13" fill="#008000"/><rect x="736" y="725" width="4" height="4" fill="#008000"/><rect x="736" y="729" width="4" height="10" fill="#ff0000"/><rect x="744" y="724" width="4" height="5" fill="#008000"/><rect x="744" y="729" width="4" height="6" fill="#ff0000"/><rect x="752" y="724" width="4" height="5" fill="#ff0000"/><rect x="752" y="729" width="4" height="3" fill="#ff0000"/><rect x="760" y="725" width="4" height="4" fill="#ff0000"/><rect x="760" y="729" width="4" height="1" fill="#ff0000"/><rect x="768" y="728" width="4" height="1" fill="#ff0000"/><rect x="768" y="729" width="4" height="6" fill="#008000"/><rect x="776" y="728" width="4" height="1" fill="#ff0000"/><rect x="776" y="729" width="4" height="6" fill="#008000"/><rect x="784" y="725" width="4" height="4" fill="#008000"/><rect x="784" y="729" width="4" height="4" fill="#ff0000"/><rect x="792" y="723" width="4" height="6" fill="#008000"/><rect x="792" y="729" width="4" height="5" fill="#008000"/><rect x="800" y="724" width="4" height="5" fill="#ff0000"/><rect x="800" y="729" width="4" height="7" fill="#008000"/><rect x="808" y="724" width="4" height="5" fill="#ff0000"/><rect x="808" y="729" width="4" height="8" fill="#008000"/><rect x="816" y="723" width="4" height="6" fill="#008000"/><rect x="816" y="729" width="4" height="7" fill="#ff0000"/><rect x="824" y="721" width="4" height="8" fill="#008000"/><rect x="824" y="729" width="4" height="6" fill="#ff0000"/><rect x="832" y="721" width="4" height="8" fill="#008000"/><rect x="832" y="729" width="4" height="4" fill="#ff0000"/><rect x="840" y="722" width="4" height="7" fill="#ff0000"/><rect x="840" y="729" width="4" height="2" fill="#ff0000"/><rect x="848" y="723" width="4" height="6" fill="#ff0000"/><rect x="848" y="729" width="4" height="1" fill="#ff0000"/><rect x="856" y="725" width="4" height="4" fill="#ff0000"/><rect x="856" y="729" width="4" height="3" fill="#008000"/><rect x="864" y="727" width="4" height="2" fill="#ff0000"/><rect x="864" y="729" width="4" height="3" fill="#008000"/><rect x="872" y="728" width="4" height="1" fill="#ff0000"/><rect x="872" y="729" width="4" height="2" fill="#ff0000"/><rect x="880" y="729" width="4" height="1" fill="#ff0000"/><rect x="888" y="728" width="4" height="1" fill="#008000"/><rect x="888" y="729" width="4" height="2" fill="#008000"/><rect x="896" y="728" width="4" height="1" fill="#008000"/><rect x="896" y="729" width="4" height="2" fill="#008000"/><rect x="904" y="729" width="4" height="1" fill="#ff0000"/><rect x="912" y="728" width="4" height="1" fill="#008000"/><rect x="912" y="729" width="4" height="2" fill="#008000"/><rect x="920" y="728" width="4" height="1" fill="#008000"/><rect x="920" y="729" width="4" height="2" fill="#008000"/><rect x="928" y="727" width="4" height="2" fill="#008000"/><rect x="928" y="729" width="4" height="3" fill="#008000"/><rect x="936" y="726" width="4" height="3" fill="#008000"/><rect x="936" y="729" width="4" height="6" fill="#008000"/><rect x="944" y="726" width="4" height="3" fill="#008000"/><rect x="944" y="729" width="4" height="8" fill="#008000"/><rect x="952" y="724" width="4" height="5" fill="#008000"/><rect x="952" y="729" width="4" height="9" fill="#008000"/><rect x="960" y="722" width="4" height="7" fill="#008000"/><rect x="960" y="729" width="4" height="7" fill="#ff0000"/><rect x="968" y="721" width="4" height="8" fill="#008000"/><rect x="968" y="729" width="4" height="1" fill="#ff0000"/><rect x="976" y="722" width="4" height="7" fill="#ff0000"/><rect x="976" y="729" width="4" height="5" fill="#008000"/><rect x="984" y="725" width="4" height="4" fill="#ff0000"/><rect x="984" y="729" width="4" height="7" fill="#008000"/><rect x="992" y="729" width="4" height="6" fill="#ff0000"/><rect x="1000" y="726" width="4" height="3" fill="#008000"/><rect x="1000" y="729" width="4" height="6" fill="#ff0000"/><rect x="1008" y="725" width="4" height="4" fill="#008000"/><rect x="1008" y="729" width="4" height="5" fill="#ff0000"/><rect x="1016" y="725" width="4" height="4" fill="#ff0000"/><rect x="1016" y="729" width="4" height="4" fill="#ff0000"/><rect x="1024" y="726" width="4" height="3" fill="#ff0000"/><rect x="1024" y="729" width="4" height="3" fill="#ff0000"/><rect x="1032" y="726" width="4" height="3" fill="#ff0000"/><rect x="1032" y="729" width="4" height="5" fill="#008000"/><rect x="1040" y="726" width="4" height="3" fill="#ff0000"/><rect x="1040" y="729" width="4" height="6" fill="#008000"/><rect x="1048" y="726" width="4" height="3" fill="#008000"/><rect x="1048" y="729" width="4" height="4" fill="#ff0000"/><rect x="1056" y="725" width="4" height="4" fill="#008000"/><rect x="1056" y="729" width="4" height="2" fill="#ff0000"/><rect x="1064" y="725" width="4" height="4" fill="#ff0000"/><rect x="1064" y="729" width="4" height="3" fill="#008000"/><rect x="1072" y="726" width="4" height="3" fill="#ff0000"/><rect x="1072" y="729" width="4" height="4" fill="#008000"/><rect x="1080" y="726" width="4" height="3" fill="#ff0000"/><rect x="1080" y="729" width="4" height="5" fill="#008000"/><rect x="1088" y="726" width="4" height="3" fill="#008000"/><rect x="1088" y="729" width="4" height="8" fill="#008000"/><rect x="1096" y="724" width="4" height="5" fill="#008000"/><rect x="1096" y="729" width="4" height="11" fill="#008000"/><rect x="1104" y="722" width="4" height="7" fill="#008000"/><rect x="1104" y="729" width="4" height="12" fill="#008000"/><rect x="1112" y="720" width="4" height="9" fill="#008000"/><rect x="1112" y="729" width="4" height="12" fill="#ff0000"/><rect x="1120" y="718" width="4" height="11" fill="#008000"/><rect x="1120" y="729" width="4" height="12" fill="#008000"/><rect x="1128" y="717" width="4" height="12" fill="#008000"/><rect x="1128" y="729" width="4" height="14" fill="#008000"/><rect x="1136" y="716" width="4" height="13" fill="#008000"/><rect x="1144" y="715" width="4" height="14" fill="#008000"/></g>
<line x1="2" y1="506.5" x2="1230" y2="506.5" stroke="#dcdcdc" stroke-width="1" stroke-dasharray="3,3"/>
<line x1="2" y1="619.5" x2="1230" y2="619.5" stroke="#dcdcdc" stroke-width="1" stroke-dasharray="3,3"/>
<line x1="2" y1="729.5" x2="1230" y2="729.5" stroke="#dcdcdc" stroke-width="1" stroke-dasharray="3,3"/>
<rect x="2" y="2" width="1226" height="1" fill="#000"/><rect x="2" y="473" width="1226" height="1" fill="#000"/><rect x="2" y="2" width="1" height="472" fill="#000"/><rect x="1227" y="2" width="1" height="472" fill="#000"/>
<rect x="2" y="475" width="1226" height="1" fill="#000"/><rect x="2" y="575" width="1226" height="1" fill="#000"/><rect x="2" y="475" width="1" height="101" fill="#000"/><rect x="1227" y="475" width="1" height="101" fill="#000"/>
<rect x="2" y="577" width="1226" height="1" fill="#000"/><rect x="2" y="677" width="1226" height="1" fill="#000"/><rect x="2" y="577" width="1" height="101" fill="#000"/><rect x="1227" y="577" width="1" height="101" fill="#000"/>
<rect x="2" y="679" width="1226" height="1" fill="#000"/><rect x="2" y="779" width="1226" height="1" fill="#000"/><rect x="2" y="679" width="1" height="101" fill="#000"/><rect x="1227" y="679" width="1" height="101" fill="#000"/>
<rect x="1228" y="27" width="4" height="1" fill="#000"/>
<rect x="1228" y="59" width="4" height="1" fill="#000"/>
<rect x="1228" y="90" width="4" height="1" fill="#000"/>
<rect x="1228" y="122" width="4" height="1" fill="#000"/>
<rect x="1228" y="154" width="4" height="1" fill="#000"/>
<rect x="1228" y="186" width="4" height="1" fill="#000"/>
<rect x="1228" y="218" width="4" height="1" fill="#000"/>
<rect x="1228" y="250" width="4" height="1" fill="#000"/>
<rect x="1228" y="282" width="4" height="1" fill="#000"/>
<rect x="1228" y="314" width="4" height="1" fill="#000"/>
<rect x="1228" y="345" width="4" height="1" fill="#000"/>
<rect x="1228" y="377" width="4" height="1" fill="#000"/>
<rect x="1228" y="409" width="4" height="1" fill="#000"/>
<rect x="1228" y="441" width="4" height="1" fill="#000"/>
<rect x="1228" y="476" width="4" height="1" fill="#000"/>
<rect x="1228" y="574" width="4" height="1" fill="#000"/>
<rect x="1228" y="578" width="4" height="1" fill="#000"/>
<rect x="1228" y="676" width="4" height="1" fill="#000"/>
<rect x="1228" y="680" width="4" height="1" fill="#000"/>
<rect x="1228" y="778" width="4" height="1" fill="#000"/>
<rect x="2" y="780" width="1" height="4" fill="#000"/>
<rect x="66" y="780" width="1" height="4" fill="#000"/>
<rect x="130" y="780" width="1" height="4" fill="#000"/>
<rect x="194" y="780" width="1" height="4" fill="#000"/>
<rect x="258" y="780" width="1" height="4" fill="#000"/>
<rect x="322" y="780" width="1" height="4" fill="#000"/>
<rect x="386" y="780" width="1" height="4" fill="#000"/>
<rect x="450" y="780" width="1" height="4" fill="#000"/>
<rect x="514" y="780" width="1" height="4" fill="#000"/>
<rect x="578" y="780" width="1" height="4" fill="#000"/>
<rect x="642" y="780" width="1" height="4" fill="#000"/>
<rect x="706" y="780" width="1" height="4" fill="#000"/>
<rect x="770" y="780" width="1" height="4" fill="#000"/>
<rect x="834" y="780" width="1" height="4" fill="#000"/>
<rect x="898" y="780" width="1" height="4" fill="#000"/>
<rect x="962" y="780" width="1" height="4" fill="#000"/>
<rect x="1026" y="780" width="1" height="4" fill="#000"/>
<rect x="1090" y="780" width="1" height="4" fill="#000"/>
<rect x="1228" y="285" width="2" height="1" fill="#cc0000"/>
</svg>
<svg width="1280" height="800" viewBox="0 0 1280 800" style="position:absolute;left:0;top:0;will-change:transform"><g font-family="Liberation Sans, sans-serif" font-size="10px" text-rendering="geometricPrecision" stroke="#000" stroke-width="0.3"><text transform="translate(1233,31) scale(0.9,1)" fill="#000">0.79060</text><text transform="translate(1233,63) scale(0.9,1)" fill="#000">0.78840</text><text transform="translate(1233,94) scale(0.9,1)" fill="#000">0.78620</text><text transform="translate(1233,126) scale(0.9,1)" fill="#000">0.78400</text><text transform="translate(1233,158) scale(0.9,1)" fill="#000">0.78180</text><text transform="translate(1233,190) scale(0.9,1)" fill="#000">0.77960</text><text transform="translate(1233,222) scale(0.9,1)" fill="#000">0.77740</text><text transform="translate(1233,254) scale(0.9,1)" fill="#000">0.77520</text><text transform="translate(1233,286) scale(0.9,1)" fill="#000">0.77300</text><text transform="translate(1233,318) scale(0.9,1)" fill="#000">0.77080</text><text transform="translate(1233,349) scale(0.9,1)" fill="#000">0.76860</text><text transform="translate(1233,381) scale(0.9,1)" fill="#000">0.76640</text><text transform="translate(1233,413) scale(0.9,1)" fill="#000">0.76420</text><text transform="translate(1233,445) scale(0.9,1)" fill="#000">0.76200</text><text transform="translate(1233,484) scale(0.9,1)" fill="#000">0.005312</text><text transform="translate(1233,509) scale(0.9,1)" fill="#000">0.000000</text><text transform="translate(1233,573) scale(0.9,1)" fill="#000">-0.011758</text><text transform="translate(1233,586) scale(0.9,1)" fill="#000">0.0026144</text><text transform="translate(1233,622) scale(0.9,1)" fill="#000">0.0000000</text><text transform="translate(1233,676) scale(0.9,1)" fill="#000">-0.0035877</text><text transform="translate(1233,688) scale(0.9,1)" fill="#000">0.006002</text><text transform="translate(1233,732) scale(0.9,1)" fill="#000">0.000000</text><text transform="translate(1233,777) scale(0.9,1)" fill="#000">-0.005962</text><text transform="translate(2,792) scale(0.9,1)" fill="#000">23 Jan 2026</text><text transform="translate(66,792) scale(0.9,1)" fill="#000">23 Jan 13:00</text><text transform="translate(130,792) scale(0.9,1)" fill="#000">23 Jan 21:00</text><text transform="translate(194,792) scale(0.9,1)" fill="#000">26 Jan 05:00</text><text transform="translate(258,792) scale(0.9,1)" fill="#000">26 Jan 13:00</text><text transform="translate(322,792) scale(0.9,1)" fill="#000">26 Jan 21:00</text><text transform="translate(386,792) scale(0.9,1)" fill="#000">27 Jan 05:00</text><text transform="translate(450,792) scale(0.9,1)" fill="#000">27 Jan 13:00</text><text transform="translate(514,792) scale(0.9,1)" fill="#000">27 Jan 21:00</text><text transform="translate(578,792) scale(0.9,1)" fill="#000">28 Jan 05:00</text><text transform="translate(642,792) scale(0.9,1)" fill="#000">28 Jan 13:00</text><text transform="translate(706,792) scale(0.9,1)" fill="#000">28 Jan 21:00</text><text transform="translate(770,792) scale(0.9,1)" fill="#000">29 Jan 05:00</text><text transform="translate(834,792) scale(0.9,1)" fill="#000">29 Jan 13:00</text><text transform="translate(898,792) scale(0.9,1)" fill="#000">29 Jan 21:00</text><text transform="translate(962,792) scale(0.9,1)" fill="#000">30 Jan 05:00</text><text transform="translate(1026,792) scale(0.9,1)" fill="#000">30 Jan 13:00</text><text transform="translate(1090,792) scale(0.9,1)" fill="#000">30 Jan 21:00</text><text transform="translate(6,488) scale(0.925,1)" fill="#000">AOcust 0.003831</text><text transform="translate(6,590) scale(0.925,1)" fill="#000">ACcust 0.0008034</text><text transform="translate(6,692) scale(0.925,1)" fill="#000">GatorCust 0.001654 -0.001615</text></g><rect x="1230" y="280" width="39" height="11" fill="#cc0000" shape-rendering="crispEdges"/><g font-family="Liberation Sans, sans-serif" font-size="10px"><text transform="translate(1233,289) scale(0.9,1)" fill="#fff">0.77276</text></g></svg></div></body></html>
